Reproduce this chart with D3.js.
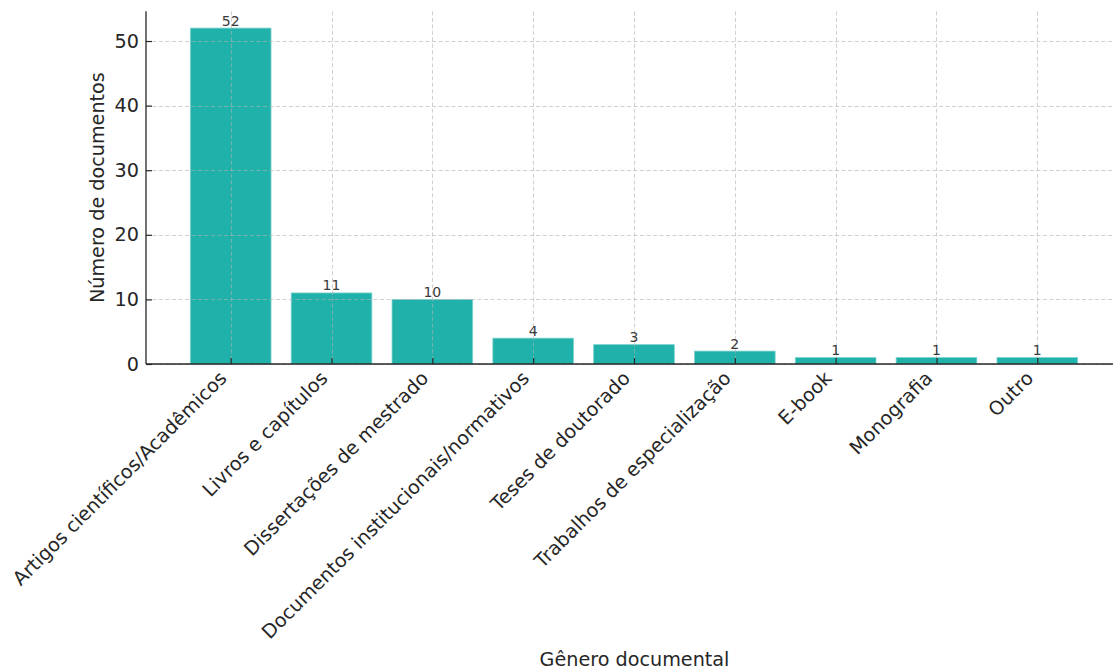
<!DOCTYPE html>
<html>
<head>
<meta charset="utf-8">
<script src="https://cdn.jsdelivr.net/npm/d3@7"></script>
<style>
  html, body { margin: 0; padding: 0; background: #fff; }
  svg { display: block; font-family: "DejaVu Sans", sans-serif; }
</style>
</head>
<body>
<svg id="chart" width="1113" height="670"></svg>
<script>
// Document genres and counts
const categories = [
  "Artigos científicos/Acadêmicos",
  "Livros e capítulos",
  "Dissertações de mestrado",
  "Documentos institucionais/normativos",
  "Teses de doutorado",
  "Trabalhos de especialização",
  "E-book",
  "Monografia",
  "Outro"
];
const counts = [52, 11, 10, 4, 3, 2, 1, 1, 1];
const yTicks = [0, 10, 20, 30, 40, 50];
const xTitle = "Gênero documental";
const yTitle = "Número de documentos";

(function () {
  const svg = d3.select("#chart");
  const labelSize = 19.2;
  const ink = "#262626";

  // Plot area
  const pL = 146, pB = 364, pT = 11.3, pR = 1122;

  // Index scale with 5% padding on both sides of the bar extents
  const n = categories.length;
  const barFrac = 0.8;
  const xMin = -barFrac / 2, xMax = (n - 1) + barFrac / 2;
  const xPad = (xMax - xMin) * 0.05;
  const x = d3.scaleLinear().domain([xMin - xPad, xMax + xPad]).range([pL, pR]);

  const yMax = d3.max(counts) * 1.05;
  const y = d3.scaleLinear().domain([0, yMax]).range([pB, pT]);

  const bw = x(barFrac) - x(0);

  // Bars
  svg.append("g")
    .selectAll("rect")
    .data(counts)
    .join("rect")
    .attr("x", (d, i) => x(i) - bw / 2)
    .attr("y", d => y(d))
    .attr("width", bw)
    .attr("height", d => y(0) - y(d))
    .attr("fill", "#20b2aa")
    .attr("stroke", "#7fd3cd")
    .attr("stroke-width", 0.8);

  // Dashed grid drawn over the bars
  const grid = svg.append("g")
    .attr("stroke", "#b0b0b0")
    .attr("stroke-opacity", 0.6)
    .attr("stroke-width", 1)
    .attr("stroke-dasharray", "4,2.5");

  grid.selectAll("line.h")
    .data(yTicks)
    .join("line")
    .attr("class", "h")
    .attr("x1", pL).attr("x2", pR)
    .attr("y1", d => Math.round(y(d)) + 0.5)
    .attr("y2", d => Math.round(y(d)) + 0.5);

  grid.selectAll("line.v")
    .data(categories)
    .join("line")
    .attr("class", "v")
    .attr("x1", (d, i) => Math.round(x(i)) + 0.5)
    .attr("x2", (d, i) => Math.round(x(i)) + 0.5)
    .attr("y1", pT).attr("y2", pB);

  // Value labels above bars
  svg.append("g")
    .selectAll("text")
    .data(counts)
    .join("text")
    .attr("x", (d, i) => x(i))
    .attr("y", d => y(d) - 2.5)
    .attr("text-anchor", "middle")
    .attr("font-size", 14)
    .attr("fill", "#3a3a3a")
    .text(d => d);

  // Y axis (ticks pointing inward)
  const yAxis = d3.axisLeft(y)
    .tickValues(yTicks)
    .tickSize(-6)
    .tickPadding(7)
    .tickFormat(d3.format("d"));

  const gy = svg.append("g")
    .attr("transform", `translate(${pL},0)`)
    .call(yAxis);
  gy.select(".domain").remove();
  gy.selectAll(".tick line").attr("stroke", ink).attr("stroke-width", 1.2);
  gy.selectAll(".tick text")
    .attr("font-size", labelSize)
    .attr("fill", ink)
    .attr("font-family", "DejaVu Sans, sans-serif");

  // X axis (ticks pointing inward, labels rotated 45°)
  const xAxis = d3.axisBottom(x)
    .tickValues(d3.range(n))
    .tickSize(-6)
    .tickFormat(i => categories[i]);

  const gx = svg.append("g")
    .attr("transform", `translate(0,${pB})`)
    .call(xAxis);
  gx.select(".domain").remove();
  gx.selectAll(".tick line").attr("stroke", ink).attr("stroke-width", 1.2);
  gx.selectAll(".tick text")
    .attr("font-size", labelSize)
    .attr("fill", ink)
    .attr("font-family", "DejaVu Sans, sans-serif")
    .attr("text-anchor", "end")
    .attr("dy", null)
    .attr("y", null)
    .attr("transform", "translate(-3.3,15.5) rotate(-45)");

  // Spines: left and bottom only
  svg.append("line")
    .attr("x1", pL).attr("x2", pL)
    .attr("y1", pT).attr("y2", pB)
    .attr("stroke", ink).attr("stroke-width", 1.3);
  svg.append("line")
    .attr("x1", pL).attr("x2", pR)
    .attr("y1", pB).attr("y2", pB)
    .attr("stroke", ink).attr("stroke-width", 1.3);

  // Axis titles
  svg.append("text")
    .attr("x", x((n - 1) / 2) + 0.5)
    .attr("y", 666)
    .attr("text-anchor", "middle")
    .attr("font-size", labelSize)
    .attr("fill", ink)
    .text(xTitle);

  svg.append("text")
    .attr("transform", `translate(104,${(pT + pB) / 2}) rotate(-90)`)
    .attr("text-anchor", "middle")
    .attr("font-size", labelSize)
    .attr("fill", ink)
    .text(yTitle);
})();
</script>
</body>
</html>
